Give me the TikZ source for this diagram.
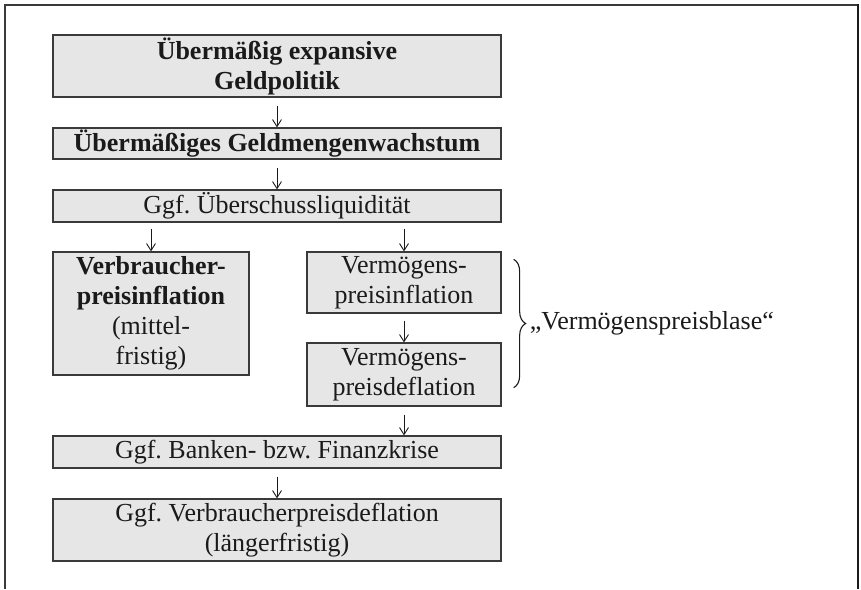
\documentclass[tikz,border=0pt]{standalone}
\usepackage{fontspec}
\setmainfont{Liberation Serif}
\usepackage{tikz}
\usetikzlibrary{positioning,arrows.meta,calc,decorations.pathreplacing}
\definecolor{boxfill}{HTML}{E6E6E6}
\definecolor{ink}{HTML}{1A1A1A}
\definecolor{rule}{HTML}{3A3A3A}
\frenchspacing

\begin{document}
\begin{tikzpicture}[x=1pt,y=-1pt,
  every node/.style={font=\fontsize{26}{30}\selectfont,text=ink},
  stufe/.style={draw=rule,line width=1.3pt,fill=boxfill,align=center,inner sep=0pt},
  pfeil/.style={-{Straight Barb[length=7pt,width=9pt]},ink,line width=0.9pt}]
  \useasboundingbox (0,0) rectangle (861,589);
  % Rahmen
  \draw[rule,line width=1.5pt] (5,589) -- (5,5) -- (858,5);
  \draw[ink,line width=2.5pt] (858,4) -- (858,589);
  % Kette
  \node[stufe,minimum width=448,minimum height=62] (geld) at (277,66) {\textbf{Übermäßig expansive}\\\textbf{Geldpolitik}};
  \node[stufe,minimum width=448,minimum height=31] (menge) at (277,143.5) {\textbf{Übermäßiges Geldmengenwachstum}};
  \node[stufe,minimum width=448,minimum height=32] (liqui) at (277,206) {Ggf. Überschussliquidität};
  \node[stufe,minimum width=196,minimum height=123] (vpi) at (151,313.5) {\textbf{Verbraucher-}\\\textbf{preisinflation}\\(mittel-\\fristig)};
  \node[stufe,minimum width=194,minimum height=61] (vinf) at (404,282.5) {Vermögens-\\preisinflation};
  \node[stufe,minimum width=194,minimum height=63] (vdef) at (404,374.5) {Vermögens-\\preisdeflation};
  \node[stufe,minimum width=448,minimum height=32] (krise) at (277,452) {Ggf. Banken- bzw. Finanzkrise};
  \node[stufe,minimum width=448,minimum height=62] (defl) at (277,530) {Ggf. Verbraucherpreisdeflation\\(längerfristig)};
  \draw[pfeil] ([yshift=-8]geld.south) -- (menge.north);
  \draw[pfeil] ([yshift=-8]menge.south) -- (liqui.north);
  \draw[pfeil] ([yshift=-6]liqui.south -| vpi.north) -- (vpi.north);
  \draw[pfeil] ([yshift=-6]liqui.south -| vinf.north) -- (vinf.north);
  \draw[pfeil] ([yshift=-7]vinf.south) -- (vdef.north);
  \draw[pfeil] ([yshift=-8]vdef.south) -- (krise.north -| vdef.south);
  \draw[pfeil] ([yshift=-8]krise.south) -- (defl.north);
  % Blase
  \coordinate (klo) at ([xshift=12,yshift=-8]vinf.north east);
  \coordinate (klu) at ([xshift=12,yshift=19]vdef.south east);
  \draw[ink,line width=1.1pt,decorate,decoration={brace,amplitude=12pt}] (klo) -- (klu);
  \node[anchor=west,inner sep=0pt] (blase) at ($(klo)!0.5!(klu)+(16,0)$) {„Vermögenspreisblase“};
\end{tikzpicture}
\end{document}
